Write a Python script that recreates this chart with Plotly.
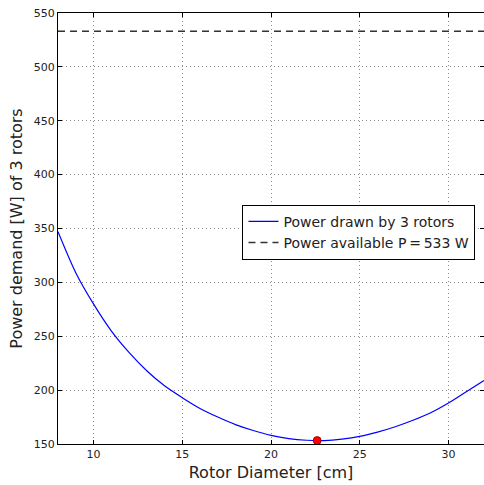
import plotly.graph_objects as go

diameter_cm = [8, 9, 10, 11, 12, 13, 14, 15, 16, 17, 18, 19, 20, 21, 22, 23, 24, 25, 26, 27, 28, 29, 30, 31, 32]
power_w = [347, 309, 280, 255, 235, 218, 204, 193, 183, 175, 168, 162.5, 158, 155, 153.5, 153.2, 154.5, 157, 161, 166, 172, 179, 188, 198.5, 209]
available_x = [8, 32]
available_w = [533, 533]
opt_d = [22.6]
opt_p = [153.2]
x_ticks = [10, 15, 20, 25, 30]
y_ticks = [150, 200, 250, 300, 350, 400, 450, 500, 550]

fig = go.Figure()
fig.add_trace(go.Scatter(x=diameter_cm, y=power_w, mode="lines", line=dict(color="#0000ff", width=1.2, shape="spline", smoothing=0.8),
                         name="Power drawn by 3 rotors"))
fig.add_trace(go.Scatter(x=available_x, y=available_w, mode="lines", line=dict(color="#333333", width=1.5, dash="7px,5px"),
                         name="Power available P\u2009=\u2009533 W"))
fig.add_trace(go.Scatter(x=opt_d, y=opt_p, mode="markers", marker=dict(color="#ff0000", size=8, line=dict(color="#800000", width=0.8)),
                         showlegend=False, cliponaxis=False))

axis_common = dict(showline=True, linecolor="black", linewidth=1, mirror="allticks", ticks="inside", ticklen=4,
                   tickcolor="black", showgrid=True, gridcolor="#8a8a8a", griddash="1px,3px", gridwidth=1,
                   zeroline=False, tickfont=dict(family="DejaVu Sans", size=11, color="#222222"))

fig.update_layout(
    width=484, height=485,
    margin=dict(l=58, r=0, t=13, b=41),
    paper_bgcolor="white", plot_bgcolor="white",
    font=dict(family="DejaVu Sans", color="#222222"),
    xaxis=dict(range=[8, 32], tickvals=x_ticks, title=dict(text="Rotor Diameter [cm]", font=dict(size=16), standoff=6), **axis_common),
    yaxis=dict(range=[150, 550], tickvals=y_ticks, title=dict(text="Power demand [W] of 3 rotors", font=dict(size=16), standoff=7), **axis_common),
    legend=dict(x=0.98, y=0.555, xanchor="right", yanchor="top", bgcolor="white", bordercolor="black", borderwidth=1,
                font=dict(size=14, family="DejaVu Sans", color="#222222"), itemwidth=30, tracegroupgap=0),
)

fig.write_html("out.html")
